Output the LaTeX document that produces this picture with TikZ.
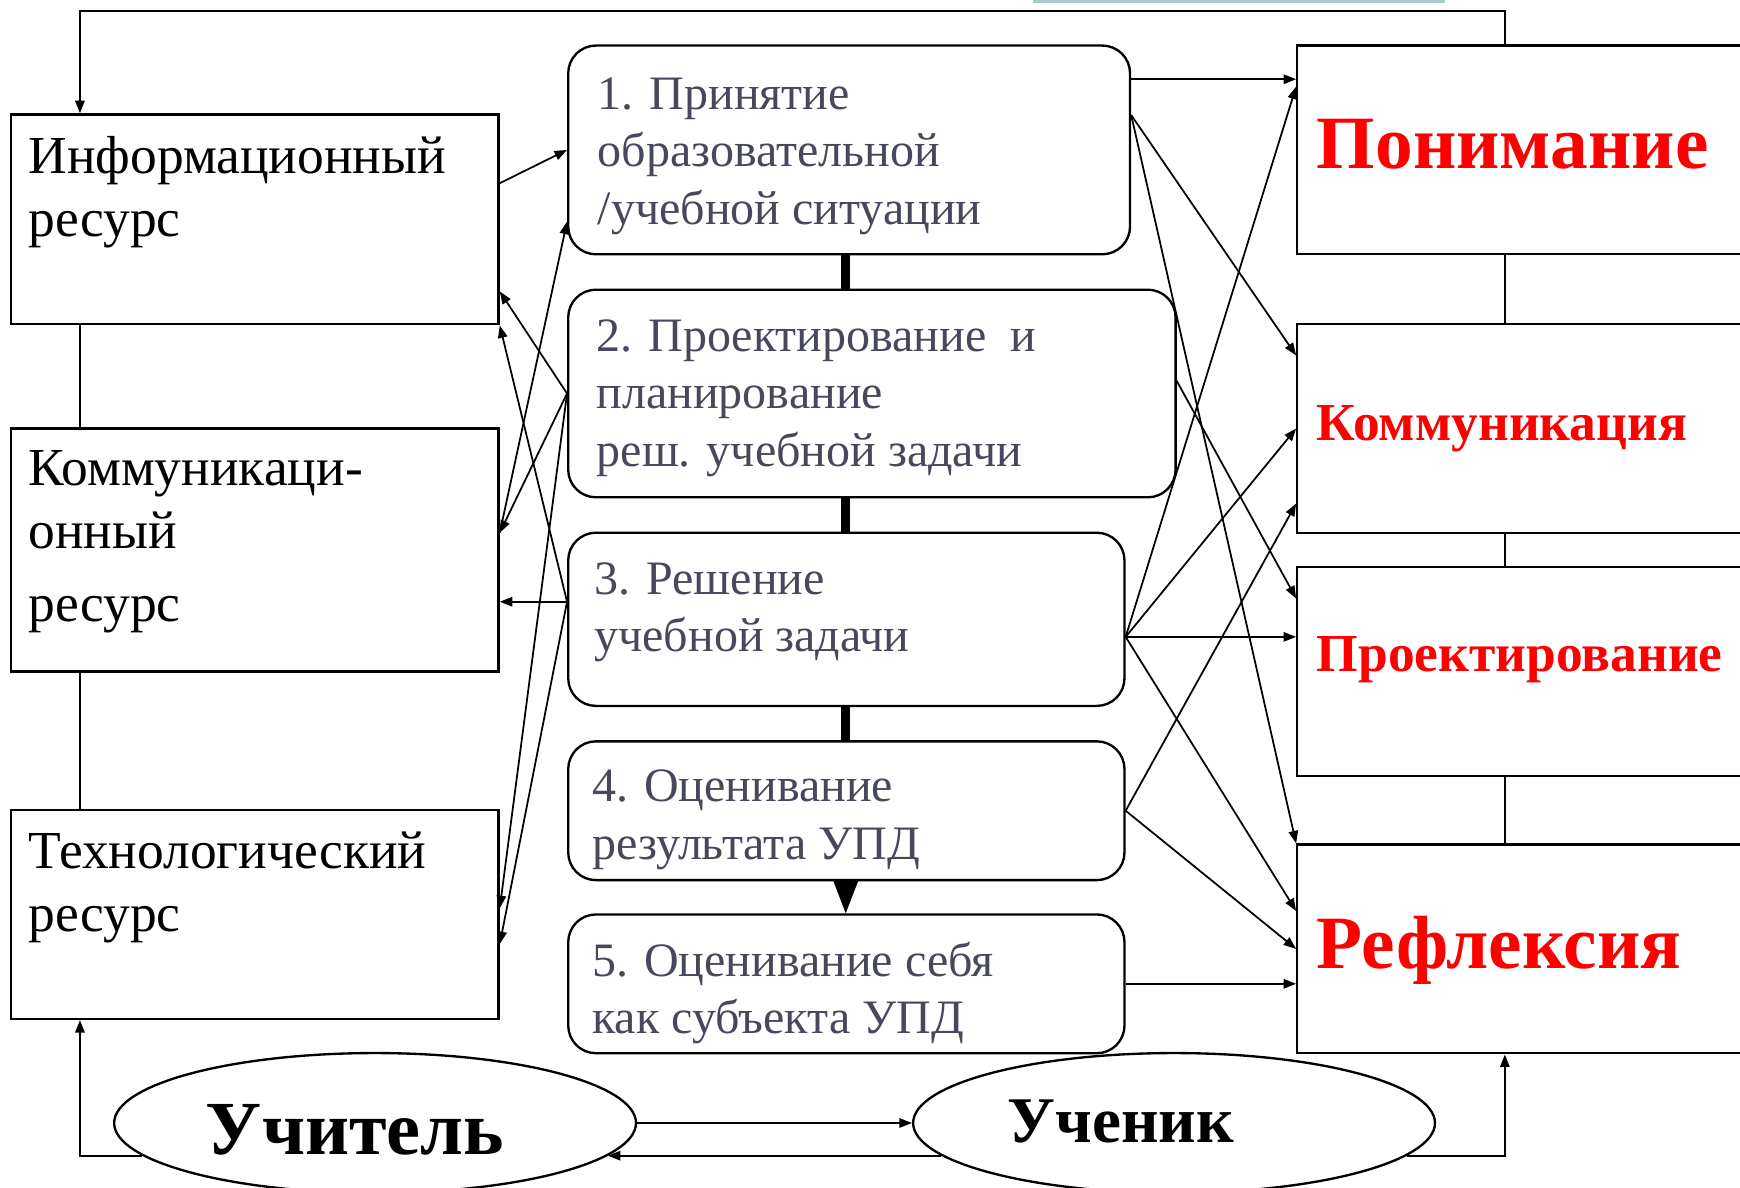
\documentclass[tikz,border=0pt]{standalone}
\usepackage{fontspec}
\setmainfont{Liberation Serif}
\usetikzlibrary{arrows.meta}
\usetikzlibrary{calc}
\usetikzlibrary{shapes.geometric}
\definecolor{slategrey}{RGB}{72,72,92}
\definecolor{brightred}{RGB}{255,0,0}
\definecolor{paleteal}{RGB}{168,200,204}

\begin{document}
\begin{tikzpicture}[x=0.01cm, y=-0.01cm,
  resbox/.style={draw, line width=0.6pt, anchor=north west, minimum width=4.39cm},
  stagebox/.style={draw, line width=0.6pt, rounded corners=0.25cm, anchor=north west},
  outbox/.style={draw, line width=0.6pt, anchor=north west, minimum width=4.4cm, minimum height=1.88cm},
  actor/.style={draw, ellipse, line width=0.6pt, fill=white, minimum width=4.7cm, minimum height=1.26cm, inner sep=0pt},
  restext/.style={anchor=north west, inner sep=0pt, align=left, font=\fontsize{13.7}{16.2}\selectfont},
  stagetext/.style={anchor=north west, inner sep=0pt, align=left, text=slategrey, font=\fontsize{12.3}{14.8}\selectfont},
  outtext/.style={anchor=base west, inner sep=0pt, text=brightred},
  link/.style={line width=0.45pt, -{Triangle[length=3.2pt,width=2.4pt]}},
  wire/.style={line width=0.6pt},
  stageline/.style={line width=2.3pt},
  tri/.style={line width=0.4pt, -{Triangle[length=0.29cm,width=0.22cm]}}]

\clip (0,0) rectangle (1568,1070);
\fill[white] (0,0) rectangle (1568,1070);

%% resources
\node[resbox, minimum height=1.89cm] (info) at (9,102) {};
\node[resbox, minimum height=2.19cm] (comm) at (9,385) {};
\node[resbox, minimum height=1.88cm] (tech) at (9,729) {};
\node[restext] (infotxt) at (25,122) {Информационный\\ресурс};
\node[restext] (commtxt) at (25,405) {Коммуникаци-\\онный\\[2.5pt]ресурс};
\node[restext] (techtxt) at (25,749) {Технологический\\ресурс};

%% stages
\node[stagebox, minimum width=5.06cm, minimum height=1.88cm] (b1) at (511,40) {};
\node[stagebox, minimum width=5.47cm, minimum height=1.87cm] (b2) at (511,260) {};
\node[stagebox, minimum width=5.01cm, minimum height=1.56cm] (b3) at (511,479) {};
\node[stagebox, minimum width=5.01cm, minimum height=1.25cm] (b4) at (511,667) {};
\node[stagebox, minimum width=5.01cm, minimum height=1.25cm] (b5) at (511,823) {};
\node[stagetext] (b1txt) at (538,69) {1. Принятие\\образовательной\\/учебной ситуации};
\node[stagetext] (b2txt) at (537,287) {2. Проектирование~ и\\планирование\\реш. учебной задачи};
\node[stagetext] (b3txt) at (535,506) {3. Решение\\учебной задачи};
\node[stagetext] (b4txt) at (533,693) {4. Оценивание\\результата УПД};
\node[stagetext] (b5txt) at (533,848) {5. Оценивание себя\\как субъекта УПД};

%% outcomes
\node[outbox] (pon) at (1168,40) {};
\node[outbox] (komm) at (1168,291) {};
\node[outbox] (proekt) at (1168,510) {};
\node[outbox] (refl) at (1168,760) {};
\node[outtext, font=\bfseries\fontsize{19.3}{22}\selectfont] (pontxt) at (1186,152) {Понимание};
\node[outtext, font=\bfseries\fontsize{13.7}{16}\selectfont] (kommtxt) at (1186,397) {Коммуникация};
\node[outtext, font=\bfseries\fontsize{13.7}{16}\selectfont] (proekttxt) at (1186,605) {Проектирование};
\node[outtext, font=\bfseries\fontsize{19.3}{22}\selectfont] (refltxt) at (1186,873) {Рефлексия};

%% actors
\node[actor] (uchitel) at (338,1012) {};
\node[actor] (uchenik) at (1058,1012) {};
\node[anchor=base, inner sep=0pt, font=\bfseries\fontsize{19.6}{24}\selectfont] (uchiteltxt) at (320,1040) {Учитель};
\node[anchor=base, inner sep=0pt, font=\bfseries\fontsize{16.7}{20}\selectfont] (uceniktxt) at (1010,1030) {Ученик};

%% ports
\coordinate (b1l) at ($(b1.north west)!.84!(b1.south west)$);
\coordinate (b3l) at ($(b3.north west)!.4!(b3.south west)$);
\coordinate (b1r1) at ($(b1.north east)!.165!(b1.south east)$);
\coordinate (b1r2) at ($(b1.north east)!.335!(b1.south east)$);
\coordinate (b2r) at ($(b2.north east)!.44!(b2.south east)$);
\coordinate (b3r) at ($(b3.north east)!.6!(b3.south east)$);

%% left side
\draw[link] ($(info.north east)!.33!(info.south east)$) -- (b1.west);
\draw[link] ($(comm.north east)!.43!(comm.south east)$) -- (b1l);
\draw[link] (b2.west) -- ($(info.north east)!.84!(info.south east)$);
\draw[link] (b2.west) -- ($(comm.north east)!.43!(comm.south east)$);
\draw[link] (b2.west) -- ($(tech.north east)!.47!(tech.south east)$);
\draw[link] (b3l) -- (info.south east);
\draw[link] (b3l) -- (b3l -| comm.east);
\draw[link] (b3l) -- ($(tech.north east)!.64!(tech.south east)$);

%% right side
\draw[link] (b1r1) -- (b1r1 -| pon.west);
\draw[link] (b1r2) -- ($(komm.north west)!.154!(komm.south west)$);
\draw[link] (b1r2) -- (refl.north west);
\draw[link] (b2r) -- ($(proekt.north west)!.154!(proekt.south west)$);
\draw[link] (b3r) -- ($(pon.north west)!.2!(pon.south west)$);
\draw[link] (b3r) -- (komm.west);
\draw[link] (b3r) -- (b3r -| proekt.west);
\draw[link] (b3r) -- ($(refl.north west)!.32!(refl.south west)$);
\draw[link] (b4.east) -- ($(komm.north west)!.856!(komm.south west)$);
\draw[link] (b4.east) -- (refl.west);
\draw[link] (b5.east) -- (b5.east -| refl.west);

%% stage chain
\draw[stageline] ([xshift=2.51cm]b1.south west) -- ([xshift=2.51cm]b2.north west);
\draw[stageline] ([xshift=2.51cm]b2.south west) -- ([xshift=2.51cm]b3.north west);
\draw[stageline] ([xshift=2.51cm]b3.south west) -- ([xshift=2.51cm]b4.north west);
\draw[tri] ([xshift=2.51cm]b4.south west) -- ([xshift=2.51cm]b5.north west);

%% columns
\draw[wire] ([xshift=0.63cm]info.south west) -- ([xshift=0.63cm]comm.north west);
\draw[wire] ([xshift=0.63cm]comm.south west) -- ([xshift=0.63cm]tech.north west);
\draw[wire] ([xshift=1.88cm]pon.south west) -- ([xshift=1.88cm]komm.north west);
\draw[wire] ([xshift=1.88cm]komm.south west) -- ([xshift=1.88cm]proekt.north west);
\draw[wire] ([xshift=1.88cm]proekt.south west) -- ([xshift=1.88cm]refl.north west);
\draw[link] ([xshift=1.88cm]pon.north west) -- ++(0,-30) -| ([xshift=0.63cm]info.north west);

%% bottom loop
\draw[link] (uchitel.east) -- (uchenik.west);
\draw[link] (uchenik.188.6) -- (uchitel.-8.6);
\draw[link] (uchitel.188.6) -| ([xshift=0.63cm]tech.south west);
\draw[link] (uchenik.-8.6) -| ([xshift=1.88cm]refl.south west);

% cut edge at the top
\draw[paleteal, line width=1.2pt] (931,1) -- (1302,1);

\end{tikzpicture}
\end{document}
